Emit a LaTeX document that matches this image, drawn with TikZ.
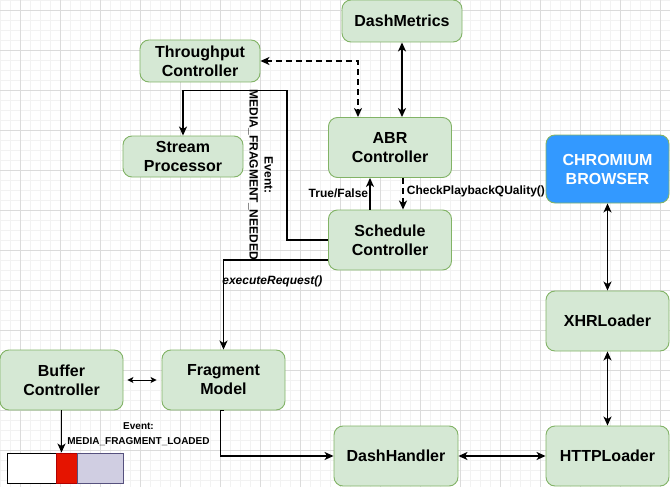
\documentclass[tikz,border=0pt]{standalone}
\usepackage{fontspec}
\setmainfont{Liberation Sans}
\usepackage{xcolor}
\usetikzlibrary{arrows.meta}

\definecolor{boxfill}{HTML}{D5E8D4}
\definecolor{boxline}{HTML}{82B366}
\definecolor{chromefill}{HTML}{3399FF}
\definecolor{segred}{HTML}{E51400}
\definecolor{segredline}{HTML}{B20000}
\definecolor{seglav}{HTML}{D0CEE2}
\definecolor{seglavline}{HTML}{56517E}

\begin{document}
\begin{tikzpicture}[x=1pt, y=-1pt, >={Stealth[length=9pt, width=8pt, inset=2.5pt]},
    block/.style={rectangle, rounded corners=9pt, draw=boxline, fill=boxfill, line width=0.9pt,
        align=center, font=\bfseries\fontsize{16}{19}\selectfont,
        minimum width=123pt, minimum height=60pt, inner sep=2pt},
    small/.style={minimum width=120pt, minimum height=42pt},
    browser/.style={block, fill=chromefill, text=white},
    cell/.style={rectangle, line width=0.9pt, minimum height=30pt, inner sep=0pt},
    lbl/.style={font=\bfseries\fontsize{12}{15}\selectfont, inner sep=1pt},
    tiny/.style={font=\bfseries\fontsize{10}{15}\selectfont, align=center, inner sep=1pt},
    conn/.style={line width=1.8pt},
    minorgrid/.style={draw=black!5, line width=0.6pt},
    majorgrid/.style={draw=black!14, line width=0.8pt}]

    \useasboundingbox (0,0) rectangle (670,487);
    \fill[white] (0,0) rectangle (670,487);

    % background grid
    \foreach \gx in {0,10,...,670}
        \draw[minorgrid] (\gx,0) -- (\gx,487);
    \foreach \gy in {0,10,...,480}
        \draw[minorgrid] (0,\gy) -- (670,\gy);
    \foreach \gx in {20,60,...,660}
        \draw[majorgrid] (\gx,0) -- (\gx,487);
    \foreach \gy in {10,50,...,450}
        \draw[majorgrid] (0,\gy) -- (670,\gy);

    % components
    \node[block, small] (dm) at (402,21) {DashMetrics};
    \node[block, small] (tp) at (200,61) {Throughput\\Controller};
    \node[block, minimum width=120pt, minimum height=41pt] (sp) at (183,156.5) {Stream\\Processor};
    \node[block] (abr) at (390,147.5) {ABR\\Controller};
    \node[browser, minimum height=68pt] (chrome) at (607.5,169) {CHROMIUM\\BROWSER};
    \node[block] (sc) at (390,240) {Schedule\\Controller};
    \node[block] (xhr) at (607.5,321) {XHRLoader};
    \node[block] (bc) at (61.5,380) {Buffer\\Controller};
    \node[block] (fm) at (223.5,380) {Fragment\\Model};
    \node[block, minimum width=124pt] (dh) at (396,456) {DashHandler};
    \node[block] (http) at (607.5,456) {HTTPLoader};

    % buffer
    \node[cell, draw=black, fill=white, minimum width=49pt] (segempty) at (31.5,468) {};
    \node[cell, draw=segredline, fill=segred, minimum width=21pt] (segload) at (66.5,468) {};
    \node[cell, draw=seglavline, fill=seglav, minimum width=46pt] (segrest) at (100,468) {};

    % connectors
    \draw[conn, <->] (dm.south) -- (dm.south |- abr.north);
    \draw[conn, <->, dash pattern=on 6pt off 4pt] (tp.east) -| ([xshift=-32pt]abr.north);
    \draw[conn, ->] (sc.west) -- ++(-41,0) |- ([yshift=45pt]sp.north) -- (sp.north);
    \draw[conn, ->] ([xshift=-20pt]sc.north) -- ([xshift=-20pt]abr.south)
        node[lbl, midway, left] {True/False};
    \draw[conn, ->, dash pattern=on 6pt off 4pt] ([xshift=13pt]abr.south) -- ([xshift=13pt]sc.north)
        node[lbl, midway, right, xshift=2pt, yshift=2pt] {CheckPlaybackQUality()};
    \draw[conn, ->] ([yshift=-20pt]sc.west) -| (fm.north)
        node[lbl, pos=0.62, anchor=west, xshift=-3pt, font=\bfseries\itshape\fontsize{12}{15}\selectfont] {executeRequest()};
    \draw[line width=1pt, <->, >={Stealth[length=6pt, width=6pt, inset=1.5pt]}]
        ([xshift=4pt]bc.east) -- ([xshift=-5pt]fm.west);
    \draw[conn, ->] (bc.south) -- (bc.south |- segload.north);
    \draw[conn, ->] (fm.south) -- ++(-3,0) |- (dh.west);
    \draw[conn, <->] (dh.east) -- (http.west);
    \draw[conn, <->] (xhr.south) -- (http.north);
    \draw[conn, <->] (chrome.south) -- (xhr.north);

    % event labels
    \node[lbl, rotate=-90, align=center] (evneeded) at (260.5,175) {Event:\\MEDIA\_FRAGMENT\_NEEDED};
    \node[tiny] (evloaded) at (138.5,434.5) {Event:\\MEDIA\_FRAGMENT\_LOADED};
\end{tikzpicture}
\end{document}
